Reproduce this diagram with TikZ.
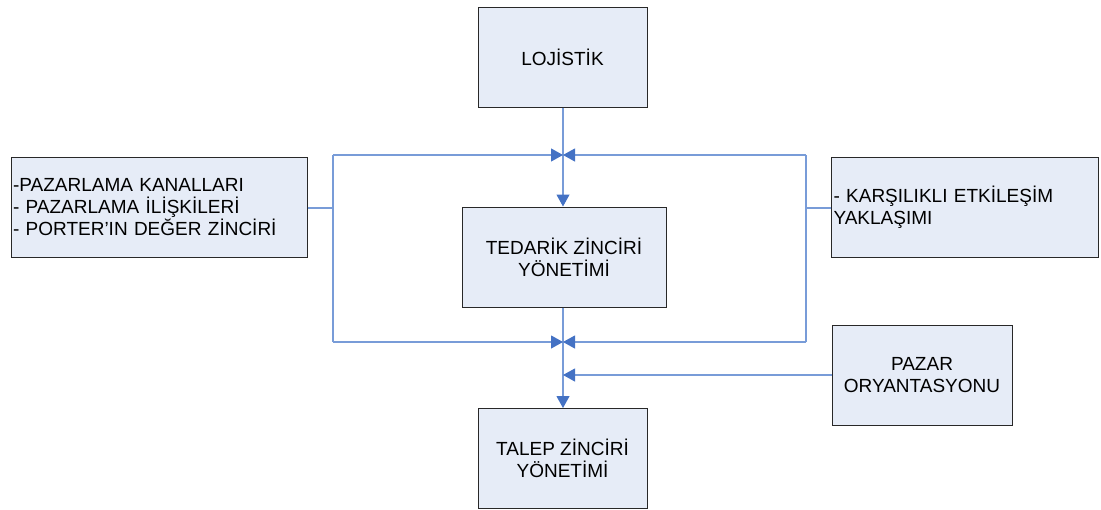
\documentclass[tikz,border=0pt]{standalone}
\usepackage{fontspec}
\setmainfont{Liberation Sans}
\usetikzlibrary{arrows.meta}
\definecolor{boxfill}{RGB}{230,236,247}
\definecolor{boxline}{RGB}{40,40,40}
\definecolor{linkblue}{RGB}{120,156,216}
\definecolor{tipblue}{RGB}{68,114,196}
\tikzset{
  box/.style={draw=boxline, fill=boxfill, line width=1pt, inner sep=1pt,
    font=\fontsize{19}{22}\selectfont},
  link/.style={draw=linkblue, line width=1.1pt},
  arr/.style={link, -{Triangle[length=12pt,width=13pt,color=tipblue,fill=tipblue]}}
}
\begin{document}
\begin{tikzpicture}[x=1pt,y=-1pt]
\clip (0,0) rectangle (1101,509);
\fill[white] (0,0) rectangle (1101,509);
% boxes
\node[box, minimum width=169pt, minimum height=100pt, align=center] (loj) at (562.5,57) {LOJİSTİK};
\node[box, minimum width=296pt, minimum height=100pt, text width=292pt, align=left] (left) at (159,207) {-PAZARLAMA KANALLARI\\- PAZARLAMA İLİŞKİLERİ\\- PORTER’IN DEĞER ZİNCİRİ};
\node[box, minimum width=267pt, minimum height=100pt, text width=263pt, align=left] (right) at (965,207) {- KARŞILIKLI ETKİLEŞİM\\YAKLAŞIMI};
\node[box, minimum width=204pt, minimum height=100pt, align=center] (ted) at (564,257) {TEDARİK ZİNCİRİ\\YÖNETİMİ};
\node[box, minimum width=169pt, minimum height=100pt, align=center] (tal) at (562.5,458.5) {TALEP ZİNCİRİ\\YÖNETİMİ};
\node[box, minimum width=180pt, minimum height=100pt, align=center] (paz) at (922,375) {PAZAR\\ORYANTASYONU};
% coordinates
\coordinate (lt) at (333,155);
\coordinate (lm) at (333,208);
\coordinate (lb) at (333,342);
\coordinate (rt) at (806,155);
\coordinate (rm) at (806,208);
\coordinate (rb) at (806,342);
\coordinate (ct) at (563,155);
\coordinate (cb) at (563,342);
\coordinate (cp) at (563,375);
% connectors
\draw[arr] (loj.south -| ct) -- (ted.north -| ct);
\draw[arr] (ted.south -| cb) -- (tal.north -| cb);
\draw[link] (left.east |- lm) -- (lm);
\draw[link] (lt) -- (lb);
\draw[link] (right.west |- rm) -- (rm);
\draw[link] (rt) -- (rb);
\draw[arr] (lt) -- (ct);
\draw[arr] (rt) -- (ct);
\draw[arr] (lb) -- (cb);
\draw[arr] (rb) -- (cb);
\draw[arr] (paz.west |- cp) -- (cp);
\end{tikzpicture}
\end{document}
